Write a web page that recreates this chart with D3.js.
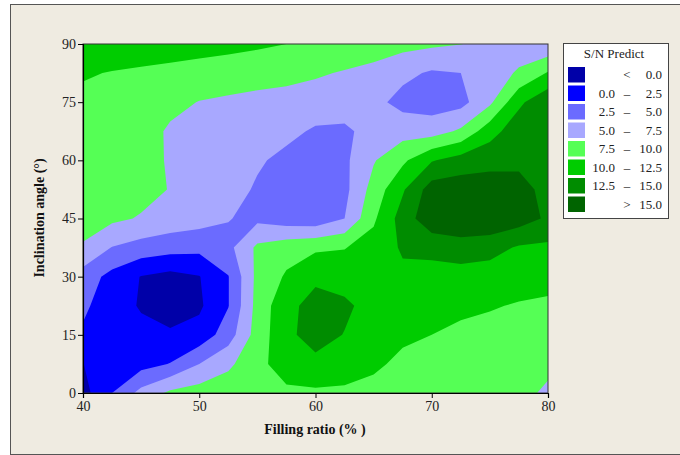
<!DOCTYPE html>
<html>
<head>
<meta charset="utf-8">
<script src="https://cdnjs.cloudflare.com/ajax/libs/d3/7.8.5/d3.min.js"></script>
<style>
  body { margin: 0; background: #fff; }
  svg { display: block; font-family: "Liberation Serif", "Times New Roman", serif; }
</style>
</head>
<body>
<div id="chart"></div>
<script>
// grid columns (filling ratio, %) and rows (inclination angle, deg, top to bottom)
const fillingRatio = [40, 42.5, 45, 47.5, 50, 52.5, 55, 57.5, 60, 62.5, 65, 67.5, 70, 72.5, 75, 77.5, 80];
const inclination = [90, 82.5, 75, 67.5, 60, 52.5, 45, 37.5, 30, 22.5, 15, 7.5, 0];

// S/N predicted values, one array per inclination row
const sn90  = [11.5, 11.3, 11.1, 10.9, 10.7, 10.5, 10.3, 10.0, 9.6, 9.2, 8.7, 8.3, 7.9, 7.55, 7.0, 6.3, 5.5];
const sn825 = [10.2, 9.9, 9.7, 9.5, 9.3, 9.1, 8.8, 8.4, 7.8, 7.3, 6.8, 5.6, 4.7, 5.0, 6.3, 7.8, 10.2];
const sn75  = [9.5, 9.4, 9.2, 8.3, 7.4, 7.0, 6.6, 6.4, 6.3, 6.1, 5.7, 4.2, 3.8, 4.2, 7.0, 12.0, 14.5];
const sn675 = [9.2, 9.1, 8.8, 7.1, 6.7, 6.4, 6.1, 5.6, 4.7, 4.6, 5.8, 6.5, 6.4, 7.9, 11.5, 14.0, 14.8];
const sn60  = [9.0, 8.9, 8.6, 7.2, 6.8, 6.3, 5.3, 4.4, 4.0, 4.5, 7.3, 9.5, 12.3, 13.6, 14.2, 14.5, 14.6];
const sn525 = [8.8, 8.6, 8.3, 7.4, 6.6, 6.0, 4.7, 3.9, 3.6, 4.3, 8.5, 12.2, 16.2, 16.4, 16.3, 15.8, 14.3];
const sn45  = [8.3, 8.0, 7.3, 6.5, 6.0, 5.1, 4.4, 3.6, 3.3, 5.0, 9.6, 13.6, 16.8, 17.2, 17.0, 16.2, 14.6];
const sn375 = [7.3, 4.9, 4.0, 3.5, 3.2, 4.3, 8.0, 9.0, 9.6, 9.9, 11.0, 12.8, 13.2, 13.8, 13.5, 12.2, 12.0];
const sn30  = [3.85, 1.7, -0.1, -0.8, -0.1, 2.4, 8.2, 10.3, 12.0, 11.4, 11.0, 12.0, 11.6, 11.5, 11.2, 11.2, 10.8];
const sn225 = [3.0, 1.0, -0.2, -1.0, -0.4, 2.4, 8.4, 11.8, 13.4, 13.0, 11.5, 11.0, 10.8, 10.5, 10.2, 9.8, 9.6];
const sn15  = [2.1, 1.3, 0.6, 0.3, 0.9, 3.8, 8.6, 11.9, 13.6, 12.4, 11.2, 10.4, 10.0, 9.5, 9.2, 8.9, 8.8];
const sn75b = [-0.05, 1.8, 1.6, 2.6, 5.0, 7.0, 9.3, 11.2, 11.8, 11.4, 10.4, 9.5, 9.0, 8.7, 8.5, 8.3, 7.9];
const sn0   = [-0.9, 2.5, 5.8, 8.0, 8.6, 9.0, 9.4, 9.5, 9.6, 9.5, 9.3, 9.0, 8.6, 8.3, 8.1, 8.0, 7.2];
const snGrid = [sn90, sn825, sn75, sn675, sn60, sn525, sn45, sn375, sn30, sn225, sn15, sn75b, sn0];

const thresholds = [0, 2.5, 5, 7.5, 10, 12.5, 15];
const bandColors = ["#0000a8", "#0000ff", "#6b6bff", "#a8a8ff", "#55ff55", "#00cc00", "#008c00", "#006400"];
const legendFrom = [null, "0.0", "2.5", "5.0", "7.5", "10.0", "12.5", null];
const legendTo = ["0.0", "2.5", "5.0", "7.5", "10.0", "12.5", "15.0", "15.0"];
const xTicks = [40, 50, 60, 70, 80];
const yTicks = [0, 15, 30, 45, 60, 75, 90];

const W = 680, H = 455;
const plot = { left: 83, top: 44, right: 548, bottom: 393 };

const svg = d3.select("#chart").append("svg")
  .attr("width", W)
  .attr("height", H);

// outer frame
svg.append("rect")
  .attr("x", 10.5).attr("y", 4.5)
  .attr("width", W + 10).attr("height", 450)
  .attr("fill", "#efebe1")
  .attr("stroke", "#555");

const x = d3.scaleLinear().domain([40, 80]).range([plot.left, plot.right]);
const y = d3.scaleLinear().domain([0, 90]).range([plot.bottom, plot.top]);

svg.append("clipPath").attr("id", "plotClip")
  .append("rect")
  .attr("x", plot.left).attr("y", plot.top)
  .attr("width", plot.right - plot.left).attr("height", plot.bottom - plot.top);

// contour bands
const nx = fillingRatio.length, ny = inclination.length;
const contours = d3.contours().size([nx, ny]).thresholds(thresholds)(snGrid.flat());
const gx = d3.scaleLinear().domain([0.5, nx - 0.5]).range([x(fillingRatio[0]), x(fillingRatio[nx - 1])]);
const gy = d3.scaleLinear().domain([0.5, ny - 0.5]).range([y(inclination[0]), y(inclination[ny - 1])]);
const path = d3.geoPath(d3.geoTransform({
  point(px, py) { this.stream.point(gx(px), gy(py)); }
}));

const g = svg.append("g").attr("clip-path", "url(#plotClip)");
g.append("rect")
  .attr("x", plot.left).attr("y", plot.top)
  .attr("width", plot.right - plot.left).attr("height", plot.bottom - plot.top)
  .attr("fill", bandColors[0]);
g.selectAll("path")
  .data(contours)
  .join("path")
  .attr("d", path)
  .attr("fill", (d, i) => bandColors[i + 1]);

// plot box
svg.append("rect")
  .attr("x", plot.left).attr("y", plot.top)
  .attr("width", plot.right - plot.left).attr("height", plot.bottom - plot.top)
  .attr("fill", "none")
  .attr("stroke", "#333");

// axes
const xAxis = svg.append("g")
  .attr("transform", `translate(0,${plot.bottom})`)
  .call(d3.axisBottom(x).tickValues(xTicks).tickSize(5).tickPadding(3).tickFormat(d3.format("d")));
const yAxis = svg.append("g")
  .attr("transform", `translate(${plot.left},0)`)
  .call(d3.axisLeft(y).tickValues(yTicks).tickSize(5).tickPadding(2).tickFormat(d3.format("d")));
[xAxis, yAxis].forEach(a => {
  a.select(".domain").attr("stroke", "#000").attr("stroke-width", 1.2);
  a.selectAll(".tick line").attr("stroke", "#000");
  a.selectAll("text")
    .attr("font-family", "Liberation Serif, serif")
    .attr("font-size", 14)
    .attr("fill", "#222");
});

svg.append("text")
  .attr("x", 315).attr("y", 434)
  .attr("text-anchor", "middle")
  .attr("font-size", 14).attr("font-weight", "bold")
  .attr("fill", "#111")
  .text("Filling ratio (% )");

svg.append("text")
  .attr("transform", "translate(44,218) rotate(-90)")
  .attr("text-anchor", "middle")
  .attr("font-size", 14).attr("font-weight", "bold")
  .attr("fill", "#111")
  .text("Inclination angle (°)");

// legend
const legend = svg.append("g");
legend.append("rect")
  .attr("x", 563.5).attr("y", 43.5)
  .attr("width", 105).attr("height", 175)
  .attr("fill", "#fff")
  .attr("stroke", "#444");
legend.append("text")
  .attr("x", 614).attr("y", 58)
  .attr("text-anchor", "middle")
  .attr("font-size", 13)
  .attr("fill", "#222")
  .text("S/N Predict");

const rows = legend.selectAll("g.row")
  .data(bandColors)
  .join("g")
  .attr("class", "row")
  .attr("transform", (d, i) => `translate(0,${67 + i * 18.5})`);
rows.append("rect")
  .attr("x", 568).attr("y", 0)
  .attr("width", 17).attr("height", 15.5)
  .attr("fill", d => d);
rows.append("text")
  .attr("x", 615).attr("y", 12)
  .attr("text-anchor", "end")
  .attr("font-size", 13).attr("fill", "#222")
  .text((d, i) => legendFrom[i] || "");
rows.append("text")
  .attr("x", 627).attr("y", 12)
  .attr("text-anchor", "middle")
  .attr("font-size", 13).attr("fill", "#222")
  .text((d, i) => i === 0 ? "<" : i === bandColors.length - 1 ? ">" : "–");
rows.append("text")
  .attr("x", 662).attr("y", 12)
  .attr("text-anchor", "end")
  .attr("font-size", 13).attr("fill", "#222")
  .text((d, i) => legendTo[i]);
</script>
</body>
</html>
